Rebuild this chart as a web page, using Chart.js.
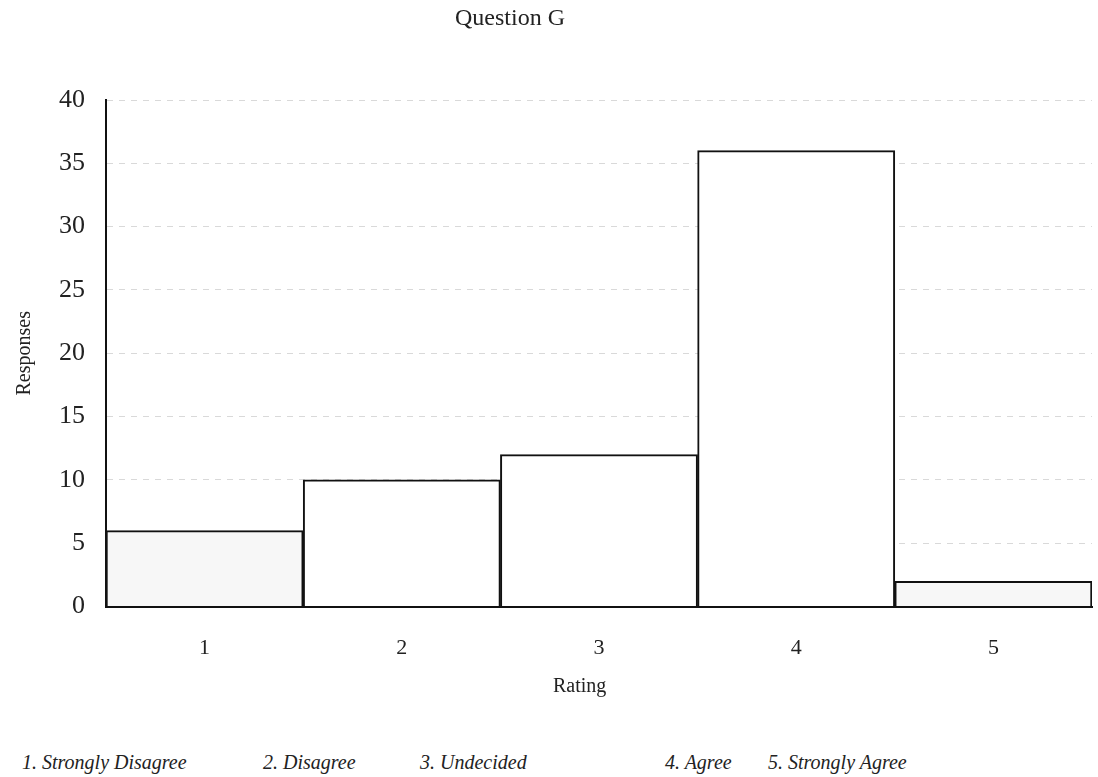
<!DOCTYPE html>
<html>
<head>
<meta charset="utf-8">
<script src="https://cdn.jsdelivr.net/npm/chart.js@4/dist/chart.umd.min.js"></script>
<style>
  body { margin: 0; background: #fff; }
  #wrap { position: relative; width: 1098px; height: 777px; }
  #grafico { position: absolute; left: 0; top: 0; }
  .txt { position: absolute; font-family: "Liberation Serif", serif; color: #222; white-space: nowrap; }
  .nota { top: 751px; font-style: italic; font-size: 20px; }
</style>
</head>
<body>
<div id="wrap">
  <canvas id="grafico" width="1098" height="681"></canvas>
  <span class="txt" style="left:455px; top:4px; font-size:24px">Question G</span>
  <span class="txt" style="left:553px; top:674px; font-size:20px">Rating</span>
  <span class="txt nota" style="left:22px">1. Strongly Disagree</span>
  <span class="txt nota" style="left:263px">2. Disagree</span>
  <span class="txt nota" style="left:420px">3. Undecided</span>
  <span class="txt nota" style="left:665px">4. Agree</span>
  <span class="txt nota" style="left:768px">5. Strongly Agree</span>
</div>
<script>
// Dados do gráfico
const ratings = ['1', '2', '3', '4', '5'];
const responses = [6, 10, 12, 36, 2];
const yTicks = [0, 5, 10, 15, 20, 25, 30, 35, 40];

const fonte = "'Liberation Serif', 'DejaVu Serif', serif";

const ctx = document.getElementById('grafico').getContext('2d');

new Chart(ctx, {
    type: 'bar',
    data: {
        labels: ratings,
        datasets: [{
            label: 'Responses',
            data: responses,
            backgroundColor: ['#f7f7f7', '#ffffff', '#ffffff', '#ffffff', '#f7f7f7'],
            borderColor: '#111111',
            borderWidth: 2,
            borderSkipped: 'bottom',
            categoryPercentage: 1.0,
            barPercentage: 1.0
        }]
    },
    options: {
        responsive: false,
        animation: false,
        layout: {
            padding: { left: 13, right: 6, top: 100, bottom: 0 }
        },
        plugins: {
            legend: { display: false },
            tooltip: { enabled: false }
        },
        scales: {
            x: {
                grid: { display: false },
                border: { display: true, color: '#111', width: 2 },
                ticks: {
                    color: '#222',
                    font: { family: fonte, size: 22 },
                    padding: 20
                }
            },
            y: {
                min: 0,
                max: 40,
                afterBuildTicks: function(axis) {
                    axis.ticks = yTicks.map(v => ({ value: v }));
                },
                grid: {
                    color: 'rgba(0,0,0,0.15)',
                    drawTicks: false
                },
                border: { display: true, color: '#111', width: 2, dash: [6, 6] },
                ticks: {
                    color: '#222',
                    font: { family: fonte, size: 26 },
                    padding: 21
                },
                title: {
                    display: true,
                    text: 'Responses',
                    color: '#222',
                    font: { family: fonte, size: 20 },
                    padding: { top: 0, bottom: 1 }
                }
            }
        }
    }
});
</script>
</body>
</html>
